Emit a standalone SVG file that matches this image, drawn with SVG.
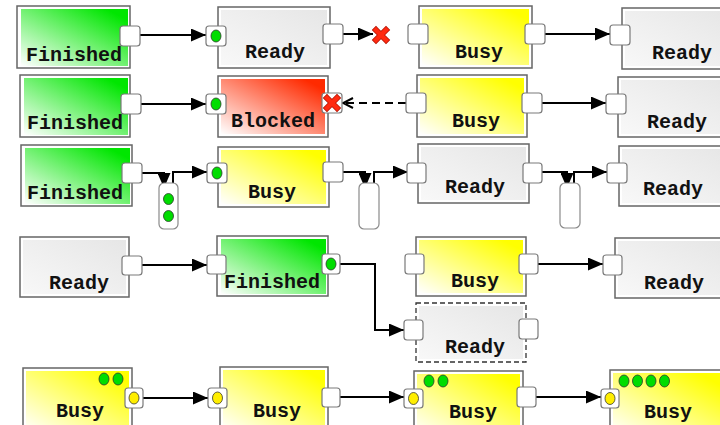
<svg xmlns="http://www.w3.org/2000/svg" width="720" height="425" viewBox="0 0 720 425">
  <style>
    .frame { fill: #ffffff; stroke: #666666; stroke-width: 1.5; }
    .frame-dash { fill: #ffffff; stroke: #333333; stroke-width: 1.3; stroke-dasharray: 5 3; }
    .port { fill: #ffffff; stroke: #7a7a7a; stroke-width: 1.2; }
    .pill { fill: #ffffff; stroke: #8a8a8a; stroke-width: 1.2; }
    .dot-g { fill: #00dd00; stroke: #2a3a2a; stroke-width: 0.8; }
    .dot-y { fill: #ffee00; stroke: #3a3a2a; stroke-width: 0.8; }
    .label { font-family: "Liberation Mono", "DejaVu Sans Mono", monospace; font-weight: bold; font-size: 20px; fill: #111111; text-anchor: middle; }
    .wire { fill: none; stroke: #000000; stroke-width: 2; }
    .wire-dash { fill: none; stroke: #000000; stroke-width: 2; stroke-dasharray: 8 5; }
    .cross { fill: none; stroke: #ff2a10; stroke-width: 4.5; stroke-linecap: square; }
    .cross-edge { fill: none; stroke: #b01000; stroke-width: 6; stroke-linecap: square; }
  </style>
  <defs>
    <linearGradient id="gGreen" x1="0" y1="1" x2="1" y2="0">
      <stop offset="0" stop-color="#ffffff"/>
      <stop offset="0.9" stop-color="#00e600"/>
    </linearGradient>
    <linearGradient id="gYellow" x1="0" y1="1" x2="1" y2="0">
      <stop offset="0" stop-color="#ffffff"/>
      <stop offset="0.9" stop-color="#ffff00"/>
    </linearGradient>
    <linearGradient id="gRed" x1="0" y1="1" x2="1" y2="0">
      <stop offset="0" stop-color="#ffffff"/>
      <stop offset="0.9" stop-color="#ff2a00"/>
    </linearGradient>
    <linearGradient id="gGray" x1="0" y1="1" x2="1" y2="0">
      <stop offset="0" stop-color="#f8f8f8"/>
      <stop offset="1" stop-color="#e6e6e6"/>
    </linearGradient>
    <marker id="head" markerUnits="userSpaceOnUse" markerWidth="15" markerHeight="13" viewBox="0 0 15 13" refX="15" refY="6.5" orient="auto">
      <path d="M0,0 L15,6.5 L0,13 z" fill="#000000"/>
    </marker>
    <marker id="open" markerUnits="userSpaceOnUse" markerWidth="12" markerHeight="12" viewBox="0 0 12 12" refX="11" refY="6" orient="auto">
      <path d="M1,1 L11,6 L1,11" fill="none" stroke="#000000" stroke-width="2"/>
    </marker>
  </defs>

  <!-- connectors -->
  <g id="connectors">
    <path class="wire" d="M140,35 H206" marker-end="url(#head)"/>
    <path class="wire" d="M343,34 H373" marker-end="url(#head)"/>
    <path class="wire" d="M544,34 H610" marker-end="url(#head)"/>

    <path class="wire" d="M141,104 H206" marker-end="url(#head)"/>
    <path class="wire-dash" d="M406,103 H343" marker-end="url(#open)"/>
    <path class="wire" d="M541,103 H606" marker-end="url(#head)"/>

    <path class="wire" d="M142,173 H164 V188" marker-end="url(#head)"/>
    <path class="wire" d="M173,183 V172 H207" marker-end="url(#head)"/>
    <path class="wire" d="M342,172 H365 V188" marker-end="url(#head)"/>
    <path class="wire" d="M374,183 V172 H408" marker-end="url(#head)"/>
    <path class="wire" d="M542,172 H567 V188" marker-end="url(#head)"/>
    <path class="wire" d="M574,183 V172 H607" marker-end="url(#head)"/>

    <path class="wire" d="M142,265 H207" marker-end="url(#head)"/>
    <path class="wire" d="M340,264 H375 V330 H404" marker-end="url(#head)"/>
    <path class="wire" d="M538,264 H603" marker-end="url(#head)"/>

    <path class="wire" d="M143,398 H208" marker-end="url(#head)"/>
    <path class="wire" d="M340,397 H404" marker-end="url(#head)"/>
    <path class="wire" d="M536,397 H601" marker-end="url(#head)"/>

    <!-- rejected transition mark -->
    <g id="stop-mark">
      <path class="cross-edge" d="M376,30 L386,40 M386,30 L376,40"/>
      <path class="cross" d="M376,30 L386,40 M386,30 L376,40"/>
    </g>
  </g>

  <!-- row 1 -->
  <g id="a1">
    <rect class="frame" x="17" y="6" width="113" height="62"/>
    <rect x="21" y="9" width="107" height="57" fill="url(#gGreen)"/>
    <text class="label" x="74" y="61">Finished</text>
    <rect class="port" x="120" y="26" width="20" height="20" rx="3"/>
  </g>
  <g id="b1">
    <rect class="frame" x="218" y="7" width="112" height="61"/>
    <rect x="221" y="10" width="106" height="55" fill="url(#gGray)"/>
    <text class="label" x="275" y="58">Ready</text>
    <rect class="port" x="206" y="26" width="20" height="20" rx="3"/>
    <ellipse class="dot-g" cx="216" cy="36" rx="5" ry="6"/>
    <rect class="port" x="323" y="24" width="20" height="20" rx="3"/>
  </g>
  <g id="c1">
    <rect class="frame" x="419" y="6" width="113" height="62"/>
    <rect x="422" y="9" width="107" height="56" fill="url(#gYellow)"/>
    <text class="label" x="479" y="58">Busy</text>
    <rect class="port" x="408" y="24" width="20" height="20" rx="3"/>
    <rect class="port" x="525" y="24" width="20" height="20" rx="3"/>
  </g>
  <g id="d1">
    <rect class="frame" x="622" y="8" width="113" height="61"/>
    <rect x="625" y="11" width="107" height="55" fill="url(#gGray)"/>
    <text class="label" x="682" y="59">Ready</text>
    <rect class="port" x="610" y="25" width="20" height="20" rx="3"/>
  </g>

  <!-- row 2 -->
  <g id="a2">
    <rect class="frame" x="20" y="75" width="110" height="62"/>
    <rect x="24" y="78" width="104" height="57" fill="url(#gGreen)"/>
    <text class="label" x="75" y="129">Finished</text>
    <rect class="port" x="121" y="94" width="20" height="20" rx="3"/>
  </g>
  <g id="b2">
    <rect class="frame" x="218" y="76" width="110" height="61"/>
    <rect x="221" y="79" width="104" height="55" fill="url(#gRed)"/>
    <text class="label" x="273" y="127">Blocked</text>
    <rect class="port" x="206" y="94" width="20" height="20" rx="3"/>
    <ellipse class="dot-g" cx="216" cy="104" rx="5" ry="6"/>
    <rect class="port" x="322" y="93" width="20" height="20" rx="3"/>
    <path class="cross-edge" d="M327,98 L337,108 M337,98 L327,108"/>
    <path class="cross" d="M327,98 L337,108 M337,98 L327,108"/>
  </g>
  <g id="c2">
    <rect class="frame" x="417" y="75" width="110" height="62"/>
    <rect x="420" y="78" width="104" height="56" fill="url(#gYellow)"/>
    <text class="label" x="476" y="127">Busy</text>
    <rect class="port" x="406" y="93" width="20" height="20" rx="3"/>
    <rect class="port" x="522" y="93" width="20" height="20" rx="3"/>
  </g>
  <g id="d2">
    <rect class="frame" x="618" y="77" width="113" height="60"/>
    <rect x="621" y="80" width="107" height="54" fill="url(#gGray)"/>
    <text class="label" x="677" y="128">Ready</text>
    <rect class="port" x="606" y="94" width="20" height="20" rx="3"/>
  </g>

  <!-- row 3 -->
  <g id="a3">
    <rect class="frame" x="21" y="145" width="111" height="61"/>
    <rect x="25" y="148" width="105" height="56" fill="url(#gGreen)"/>
    <text class="label" x="75" y="199">Finished</text>
    <rect class="port" x="122" y="163" width="20" height="20" rx="3"/>
  </g>
  <g id="gate1">
    <rect class="pill" x="159" y="183" width="19" height="46" rx="5"/>
    <ellipse class="dot-g" cx="168.5" cy="199" rx="5" ry="5.5"/>
    <ellipse class="dot-g" cx="168.5" cy="216" rx="5" ry="5.5"/>
  </g>
  <g id="b3">
    <rect class="frame" x="218" y="147" width="111" height="60"/>
    <rect x="221" y="150" width="105" height="54" fill="url(#gYellow)"/>
    <text class="label" x="272" y="198">Busy</text>
    <rect class="port" x="207" y="163" width="20" height="20" rx="3"/>
    <ellipse class="dot-g" cx="217" cy="173" rx="5" ry="6"/>
    <rect class="port" x="323" y="162" width="20" height="20" rx="3"/>
  </g>
  <g id="gate2">
    <rect class="pill" x="359" y="183" width="20" height="46" rx="5"/>
  </g>
  <g id="c3">
    <rect class="frame" x="418" y="144" width="111" height="59"/>
    <rect x="421" y="147" width="105" height="53" fill="url(#gGray)"/>
    <text class="label" x="475" y="193">Ready</text>
    <rect class="port" x="407" y="163" width="19" height="20" rx="3"/>
    <rect class="port" x="523" y="163" width="19" height="20" rx="3"/>
  </g>
  <g id="gate3">
    <rect class="pill" x="560" y="183" width="20" height="45" rx="5"/>
  </g>
  <g id="d3">
    <rect class="frame" x="619" y="146" width="113" height="60"/>
    <rect x="622" y="149" width="107" height="54" fill="url(#gGray)"/>
    <text class="label" x="673" y="195">Ready</text>
    <rect class="port" x="607" y="163" width="20" height="20" rx="3"/>
  </g>

  <!-- row 4 -->
  <g id="a4">
    <rect class="frame" x="20" y="237" width="109" height="60"/>
    <rect x="23" y="240" width="103" height="54" fill="url(#gGray)"/>
    <text class="label" x="79" y="289">Ready</text>
    <rect class="port" x="122" y="256" width="20" height="19" rx="3"/>
  </g>
  <g id="b4">
    <rect class="frame" x="217" y="236" width="111" height="60"/>
    <rect x="221" y="239" width="105" height="55" fill="url(#gGreen)"/>
    <text class="label" x="272" y="288">Finished</text>
    <rect class="port" x="207" y="255" width="19" height="19" rx="3"/>
    <rect class="port" x="322" y="254" width="18" height="20" rx="3"/>
    <ellipse class="dot-g" cx="331" cy="264" rx="5" ry="6"/>
  </g>
  <g id="c4">
    <rect class="frame" x="416" y="237" width="110" height="59"/>
    <rect x="419" y="240" width="104" height="53" fill="url(#gYellow)"/>
    <text class="label" x="475" y="287">Busy</text>
    <rect class="port" x="405" y="254" width="19" height="20" rx="3"/>
    <rect class="port" x="519" y="254" width="19" height="20" rx="3"/>
  </g>
  <g id="d4">
    <rect class="frame" x="615" y="238" width="113" height="60"/>
    <rect x="618" y="241" width="107" height="54" fill="url(#gGray)"/>
    <text class="label" x="674" y="289">Ready</text>
    <rect class="port" x="603" y="255" width="19" height="20" rx="3"/>
  </g>
  <g id="c4b">
    <rect class="frame-dash" x="416" y="303" width="110" height="59"/>
    <rect x="419" y="306" width="104" height="53" fill="url(#gGray)"/>
    <text class="label" x="475" y="353">Ready</text>
    <rect class="port" x="404" y="320" width="19" height="20" rx="3"/>
    <rect class="port" x="519" y="319" width="19" height="20" rx="3"/>
  </g>

  <!-- row 5 -->
  <g id="a5">
    <rect class="frame" x="23" y="368" width="109" height="65"/>
    <rect x="26" y="371" width="103" height="60" fill="url(#gYellow)"/>
    <ellipse class="dot-g" cx="104" cy="379" rx="5" ry="6"/>
    <ellipse class="dot-g" cx="118" cy="379" rx="5" ry="6"/>
    <text class="label" x="80" y="417">Busy</text>
    <rect class="port" x="125" y="388" width="18" height="20" rx="3"/>
    <ellipse class="dot-y" cx="134" cy="398" rx="5" ry="6"/>
  </g>
  <g id="b5">
    <rect class="frame" x="220" y="367" width="108" height="65"/>
    <rect x="223" y="370" width="102" height="60" fill="url(#gYellow)"/>
    <text class="label" x="277" y="417">Busy</text>
    <rect class="port" x="208" y="388" width="19" height="20" rx="3"/>
    <ellipse class="dot-y" cx="217.5" cy="398" rx="5" ry="6"/>
    <rect class="port" x="322" y="388" width="18" height="19" rx="3"/>
  </g>
  <g id="c5">
    <rect class="frame" x="414" y="371" width="109" height="65"/>
    <rect x="417" y="374" width="103" height="60" fill="url(#gYellow)"/>
    <ellipse class="dot-g" cx="429" cy="381" rx="5" ry="6"/>
    <ellipse class="dot-g" cx="443" cy="381" rx="5" ry="6"/>
    <text class="label" x="473" y="418">Busy</text>
    <rect class="port" x="404" y="389" width="19" height="19" rx="3"/>
    <ellipse class="dot-y" cx="413.5" cy="398.5" rx="5" ry="6"/>
    <rect class="port" x="517" y="387" width="19" height="20" rx="3"/>
  </g>
  <g id="d5">
    <rect class="frame" x="610" y="370" width="113" height="65"/>
    <rect x="613" y="373" width="107" height="60" fill="url(#gYellow)"/>
    <ellipse class="dot-g" cx="624" cy="381" rx="5" ry="6"/>
    <ellipse class="dot-g" cx="637.5" cy="381" rx="5" ry="6"/>
    <ellipse class="dot-g" cx="651" cy="381" rx="5" ry="6"/>
    <ellipse class="dot-g" cx="664.5" cy="381" rx="5" ry="6"/>
    <text class="label" x="668" y="418">Busy</text>
    <rect class="port" x="601" y="389" width="18" height="19" rx="3"/>
    <ellipse class="dot-y" cx="610" cy="398.5" rx="5" ry="6"/>
  </g>
</svg>
